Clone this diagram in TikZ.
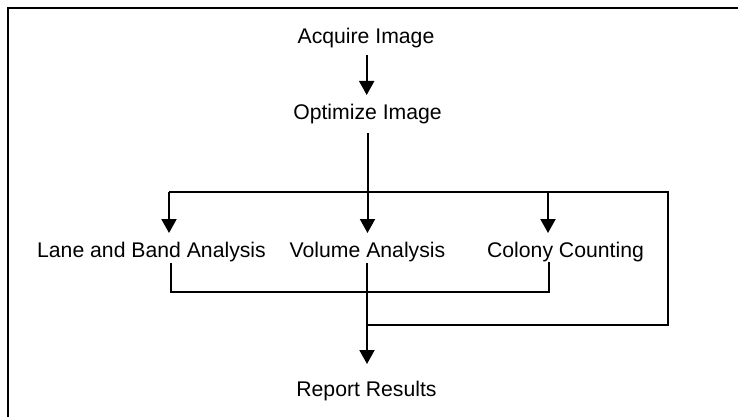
\documentclass[tikz,border=0pt]{standalone}
\usepackage{fontspec}
\setmainfont{Liberation Sans}
\usetikzlibrary{arrows.meta}
\begin{document}
\begin{tikzpicture}[x=1pt,y=-1pt,
  lbl/.style={inner sep=0pt,outer sep=0pt,anchor=base,text height=15pt,text depth=5pt,
    font=\fontsize{21.2}{25}\selectfont},
  ln/.style={line width=2pt},
  arr/.style={line width=2pt,-{Triangle[width=15pt,length=14pt]}}]
\useasboundingbox (0,0) rectangle (738,417);
\begin{scope}
\clip (0,0) rectangle (738,417);
\draw[line width=2pt] (7.7,430) -- (7.7,7.7) -- (750,7.7);
\end{scope}
% nodes
\node[lbl] (acq) at (366,43.3) {Acquire Image};
\node[lbl] (opt) at (367.5,120) {Optimize Image};
\node[lbl] (lane) at (151.5,257) {Lane and Band Analysis};
\node[lbl] (vol) at (367.5,257) {Volume Analysis};
\node[lbl] (col) at (565.5,257) {Colony Counting};
\node[lbl] (rep) at (366.5,396) {Report Results};
% helper coordinates
\coordinate (hy) at (0,192);
\coordinate (ly) at (0,292);
\coordinate (ry) at (668,325);
\path ([xshift=17.5pt]lane.north) coordinate (la)
      ([xshift=-17.5pt]col.north) coordinate (ca)
      ([xshift=19.5pt]lane.south) coordinate (lb)
      ([xshift=-16.5pt]col.south) coordinate (cb)
      ([xshift=0.7pt]acq.south) coordinate (as)
      ([xshift=-0.5pt]vol.south) coordinate (vs);
% connectors
\draw[arr,shorten <=7pt,shorten >=10pt] (as) -- (as |- opt.north);
\draw[arr,shorten <=8pt,shorten >=9pt] (opt.south) -- (vol.north);
\draw[ln] (la |- hy) -- (ry |- hy) -- (ry) -- (vs |- ry);
\draw[arr,shorten >=9pt] (la |- hy) -- (la);
\draw[arr,shorten >=9pt] (ca |- hy) -- (ca);
\draw[ln,shorten <=1pt] (lb) -- (lb |- ly) -- (cb |- ly) -- (cb);
\draw[arr,shorten <=1pt,shorten >=17pt] (vs) -- (vs |- rep.north);
\end{tikzpicture}
\end{document}
